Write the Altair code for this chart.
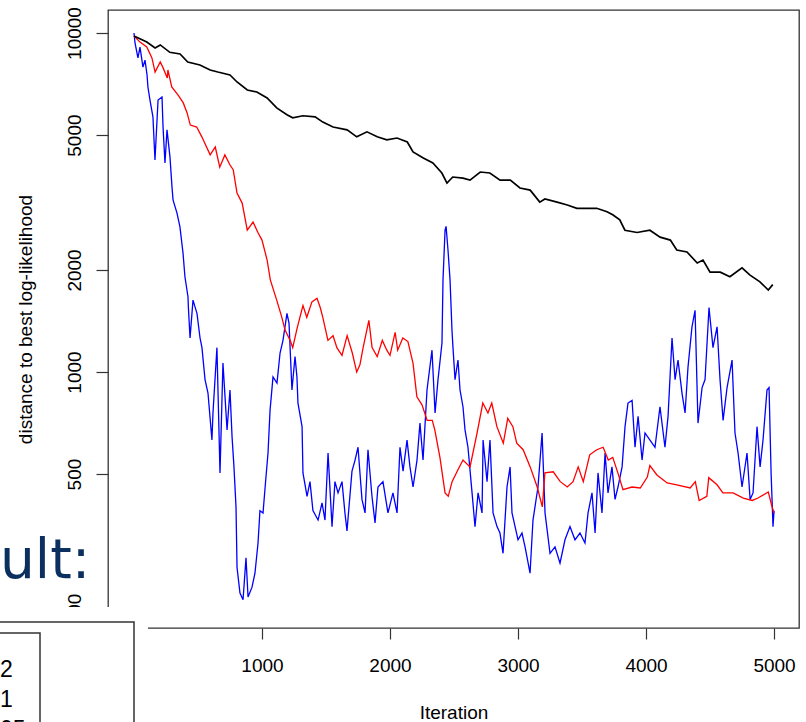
import altair as alt
import pandas as pd

# ---------------- data ----------------
black_iter = [0, 100, 165, 205, 280, 360, 420, 515, 595, 655,
              750, 805, 885, 960, 1040, 1115, 1195, 1240, 1320, 1415,
              1475, 1555, 1665, 1740, 1820, 1900, 1975, 2055, 2135, 2180,
              2260, 2335, 2405, 2445, 2490, 2570, 2625, 2705, 2780, 2860,
              2940, 3015, 3095, 3170, 3210, 3305, 3385, 3460, 3540, 3615,
              3695, 3740, 3795, 3835, 3930, 4030, 4110, 4190, 4240, 4320,
              4400, 4445, 4500, 4580, 4655, 4750, 4810, 4890, 4955, 4990]
black_val = [9800, 9405, 9030, 9220, 8770, 8670, 8210, 8050, 7780, 7670,
             7520, 7170, 6790, 6700, 6430, 6010, 5740, 5620, 5700, 5660,
             5460, 5280, 5180, 4940, 5110, 4940, 4840, 4900, 4770, 4460,
             4280, 4135, 3864, 3610, 3760, 3730, 3680, 3890, 3864, 3680,
             3680, 3490, 3440, 3170, 3240, 3170, 3110, 3040, 3040, 3040,
             2970, 2910, 2810, 2620, 2580, 2620, 2500, 2450, 2290, 2260,
             2097, 2140, 1970, 1970, 1910, 2030, 1935, 1845, 1745, 1810]

red_iter = [0, 47, 100, 140, 165, 205, 225, 260, 265, 295,
            345, 385, 415, 440, 490, 530, 595, 635, 670, 710,
            750, 775, 805, 845, 885, 930, 970, 1000, 1040, 1065,
            1115, 1155, 1180, 1220, 1240, 1275, 1320, 1350, 1390, 1430,
            1455, 1475, 1515, 1555, 1585, 1625, 1665, 1705, 1740, 1765,
            1790, 1835, 1860, 1900, 1940, 1975, 2000, 2040, 2060, 2100,
            2140, 2180, 2210, 2250, 2290, 2330, 2350, 2390, 2430, 2455,
            2485, 2525, 2570, 2625, 2680, 2725, 2765, 2795, 2835, 2885,
            2920, 2960, 2990, 3040, 3095, 3150, 3190, 3210, 3275, 3330,
            3385, 3430, 3470, 3510, 3560, 3615, 3665, 3705, 3740, 3780,
            3820, 3890, 3955, 4010, 4030, 4085, 4165, 4240, 4345, 4385,
            4415, 4475, 4490, 4555, 4600, 4680, 4760, 4830, 4875, 4955,
            4985, 5000]
red_val = [9800, 9400, 9090, 8440, 7670, 8210, 7930, 7370, 7780, 6930,
           6560, 6220, 5810, 5350, 5280, 4940, 4370, 4610, 4020, 4370,
           4080, 3950, 3370, 3150, 2620, 2770, 2570, 2450, 2140, 1870,
           1630, 1450, 1330, 1240, 1180, 1350, 1570, 1450, 1610, 1650,
           1550, 1450, 1240, 1280, 1180, 1120, 1280, 1140, 1000, 1050,
           1180, 1420, 1180, 1110, 1240, 1160, 1120, 1310, 1160, 1260,
           1230, 1060, 845, 800, 720, 720, 675, 560, 440, 430,
           475, 510, 550, 525, 660, 810, 757, 810, 690, 617,
           730, 690, 617, 590, 525, 458, 400, 504, 508, 475,
           458, 475, 525, 475, 570, 590, 600, 550, 560, 504,
           450, 458, 455, 490, 530, 497, 471, 465, 455, 475,
           418, 430, 488, 465, 440, 440, 425, 418, 425, 443,
           400, 384]

blue_iter = [0, 8, 31, 47, 70, 86, 102, 109, 125, 148,
             164, 188, 219, 227, 242, 258, 281, 297, 305, 336,
             359, 383, 398, 422, 425, 438, 461, 492, 516, 531,
             555, 578, 609, 617, 648, 672, 695, 727, 750, 766,
             781, 797, 805, 828, 852, 875, 891, 922, 945, 969,
             984, 1008, 1031, 1047, 1063, 1086, 1117, 1141, 1164, 1195,
             1211, 1234, 1258, 1273, 1281, 1313, 1320, 1352, 1375, 1398,
             1438, 1469, 1492, 1516, 1547, 1570, 1594, 1625, 1648, 1664,
             1703, 1727, 1750, 1781, 1805, 1828, 1859, 1883, 1906, 1945,
             1984, 2023, 2055, 2078, 2102, 2133, 2156, 2180, 2211, 2234,
             2258, 2289, 2328, 2352, 2375, 2406, 2414, 2430, 2438, 2453,
             2469, 2484, 2492, 2508, 2531, 2547, 2570, 2586, 2609, 2641,
             2664, 2688, 2719, 2727, 2758, 2781, 2805, 2836, 2859, 2883,
             2914, 2938, 2953, 2977, 3000, 3031, 3055, 3094, 3117, 3156,
             3188, 3211, 3250, 3289, 3328, 3367, 3406, 3445, 3484, 3523,
             3547, 3578, 3602, 3625, 3656, 3680, 3703, 3734, 3758, 3781,
             3813, 3836, 3859, 3891, 3914, 3938, 3969, 3992, 4031, 4070,
             4109, 4148, 4172, 4203, 4227, 4250, 4281, 4305, 4328, 4359,
             4383, 4406, 4438, 4461, 4492, 4523, 4555, 4578, 4602, 4633,
             4672, 4695, 4719, 4750, 4789, 4813, 4836, 4867, 4891, 4914,
             4945, 4961, 4977, 4992, 5000]
blue_val = [10000, 9344, 8440, 9090, 7930, 8320, 7520, 6930, 6340, 5660,
            4220, 6340, 6470, 5280, 4135, 5180, 4310, 3510, 3220, 2944,
            2680, 2244, 1910, 1665, 1550, 1260, 1630, 1490, 1260, 1180,
            950, 867, 630, 757, 1180, 504, 1063, 675, 885, 645,
            525, 400, 265, 223, 213, 283, 217, 232, 255, 313,
            390, 384, 490, 577, 772, 967, 928, 1138, 1240, 1490,
            1395, 885, 1110, 967, 810, 690, 504, 430, 475, 390,
            366, 411, 366, 577, 350, 475, 440, 475, 384, 340,
            510, 550, 600, 421, 384, 590, 430, 359, 458, 475,
            384, 440, 384, 600, 510, 630, 525, 458, 550, 707,
            550, 885, 1160, 757, 950, 1218, 1870, 2620, 2690, 2290,
            1870, 1330, 1180, 950, 1085, 885, 790, 675, 600, 440,
            350, 440, 384, 630, 475, 630, 384, 350, 335, 292,
            458, 525, 384, 350, 320, 335, 305, 255, 366, 458,
            661, 384, 292, 305, 273, 320, 350, 320, 335, 313,
            384, 440, 335, 504, 384, 577, 440, 525, 421, 458,
            525, 690, 810, 825, 600, 740, 550, 661, 630, 600,
            790, 600, 740, 1260, 950, 1085, 867, 757, 1035, 1360,
            1520, 707, 900, 950, 1550, 1180, 1360, 950, 720, 900,
            1085, 661, 577, 458, 577, 421, 440, 690, 525, 630,
            885, 900, 504, 350, 390]

x_ticks = [1000, 2000, 3000, 4000, 5000]
y_ticks = [200, 500, 1000, 2000, 5000, 10000]
heading_text = "ult:"
legend_labels = ["2", "1", "05"]

# ---------------- chart ----------------
W, H = 691, 618
FONT = "Liberation Sans"

x_enc = alt.X(
    "iteration:Q",
    title="Iteration",
    scale=alt.Scale(domain=[-203, 5195], nice=False, zero=False),
    axis=alt.Axis(values=x_ticks, format="d", grid=False, domain=False,
                  tickSize=11, tickColor="#333", tickWidth=1.2,
                  labelFont=FONT, labelFontSize=19, labelColor="black",
                  labelPadding=17, labelFlush=False, labelAngle=0,
                  titleFont=FONT, titleFontSize=19, titleFontWeight="normal",
                  titleColor="black", titleY=84, titleBaseline="middle"),
)
y_enc = alt.Y(
    "value:Q",
    title="distance to best log-likelihood",
    scale=alt.Scale(type="log", domain=[175.8, 11690], nice=False),
    axis=alt.Axis(values=y_ticks, format="d", grid=False, domain=False,
                  tickSize=12, tickColor="#333", tickWidth=1.2,
                  labelFont=FONT, labelFontSize=19, labelColor="black",
                  labelAngle=270, labelAlign="center", labelBaseline="bottom",
                  labelPadding=12, labelFlush=False, labelOverlap=False,
                  titleFont=FONT, titleFontSize=19, titleFontWeight="normal",
                  titleColor="black", titleAngle=270, titleX=-83, titleY=309,
                  titleAlign="center", titleBaseline="middle"),
)


def series(iters, vals):
    return pd.DataFrame({"iteration": iters, "value": vals})


blue = alt.Chart(series(blue_iter, blue_val)).mark_line(
    color="#0000ff", strokeWidth=1.3).encode(x=x_enc, y=y_enc)
red = alt.Chart(series(red_iter, red_val)).mark_line(
    color="#ff0000", strokeWidth=1.3).encode(x=x_enc, y=y_enc)
black = alt.Chart(series(black_iter, black_val)).mark_line(
    color="#000000", strokeWidth=1.7).encode(x=x_enc, y=y_enc)

one = pd.DataFrame({"k": [0]})

# slide overlay: white patch with a partly visible legend box and heading
cover = alt.Chart(one).mark_rect(color="white", opacity=1).encode(
    x=alt.value(-108), x2=alt.value(40), y=alt.value(597), y2=alt.value(720))
outer = alt.Chart(one).mark_rect(filled=False, color="#333", strokeWidth=1.5).encode(
    x=alt.value(-112), x2=alt.value(26), y=alt.value(612), y2=alt.value(730))
inner = alt.Chart(one).mark_rect(filled=False, color="#333", strokeWidth=1.5).encode(
    x=alt.value(-112), x2=alt.value(-68), y=alt.value(623), y2=alt.value(730))
heading = alt.Chart(one).mark_text(
    text=heading_text, font="DejaVu Sans", fontSize=55, color="#0b2f5e",
    align="left", baseline="alphabetic").encode(x=alt.value(-108), y=alt.value(568))

legend_texts = []
for i, lab in enumerate(legend_labels):
    legend_texts.append(
        alt.Chart(one).mark_text(text=lab, font=FONT, fontSize=23, color="black",
                                 align="left", baseline="alphabetic")
        .encode(x=alt.value(-108), y=alt.value(667 + 30 * i)))

chart = alt.layer(blue, red, black, cover, outer, inner, heading, *legend_texts).properties(
    width=W, height=H,
    autosize=alt.AutoSizeParams(type="none"),
    padding={"left": 108, "top": 10, "right": 7, "bottom": 94},
    background="white",
).configure_view(stroke="#333", strokeWidth=1.3)

chart.save("out.html", embed_options={"renderer": "svg", "actions": False})
